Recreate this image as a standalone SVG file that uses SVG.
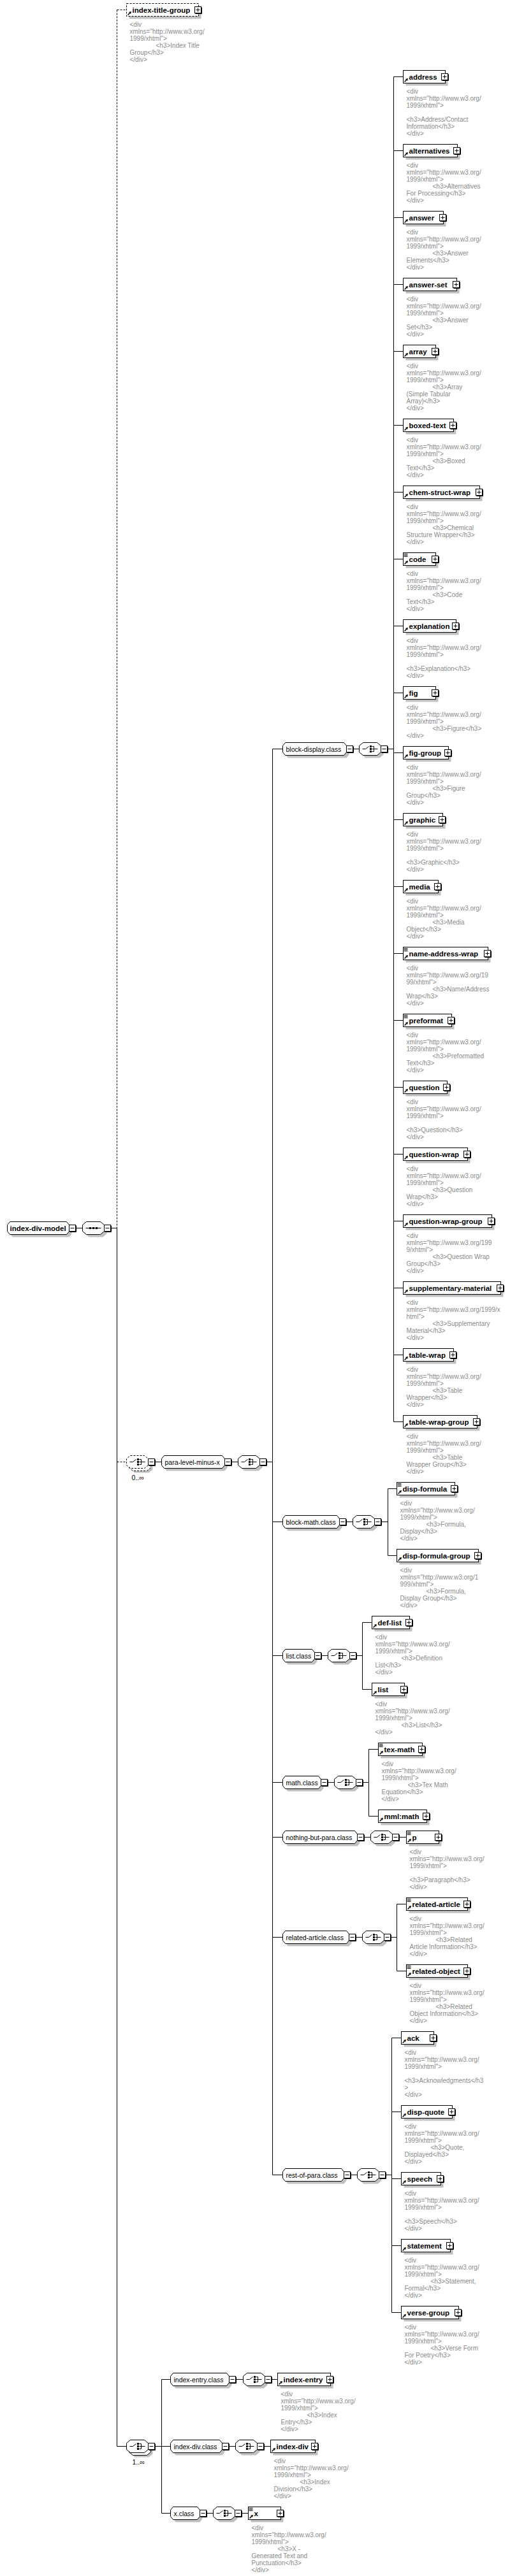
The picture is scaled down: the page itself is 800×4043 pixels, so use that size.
<svg xmlns="http://www.w3.org/2000/svg" width="800" height="4043" viewBox="0 0 800 4043">
<style>
.b{fill:#fff;stroke:#000;stroke-width:1}
.bd{fill:#fff;stroke:#000;stroke-width:1;stroke-dasharray:3,2}
.s{fill:#c0c0c0;stroke:none}
.n{font-family:"Liberation Sans",Arial,sans-serif;font-weight:bold;font-size:11.5px;fill:#000}
.c{font-family:"Liberation Sans",Arial,sans-serif;font-size:10.5px;fill:#000}
.a{font-family:"Liberation Sans",Arial,sans-serif;font-size:10px;fill:#8a8a8a}
.ln{fill:none;stroke:#000;stroke-width:1}
.dl{fill:none;stroke:#000;stroke-width:1;stroke-dasharray:3,2}
</style>
<defs>
<path id="cp" d="M6 0H28L34 5V15L28 20H6L0 15V5Z"/>
<g id="pb"><rect width="10" height="10" fill="#fff" stroke="#000"/><path d="M11 1V11H1" fill="none" stroke="#000"/><path d="M2 5H8M5 2V8" stroke="#000"/></g>
<g id="mb"><rect width="10" height="10" fill="#fff" stroke="#000"/><path d="M11 1V11H1" fill="none" stroke="#000"/><path d="M2 5H8" stroke="#000"/></g>
<g id="ra"><path d="M2 18L5 15" stroke="#000" stroke-width="1.5"/><path d="M7.5 12.5L3.5 13.5L6.5 16.5Z" fill="#000"/></g>
<g id="mi"><path d="M1 2H7M1 4H7M1 6H7" stroke="#000"/></g>
<g id="ci"><path d="M5 10H10L15 6M20 6H23V14H20M20 10H29" fill="none" stroke="#000"/><path d="M16.5 4.5h3v3h-3zM16.5 8.5h3v3h-3zM16.5 12.5h3v3h-3z" fill="#000"/></g>
<g id="si"><path d="M5 10H29" stroke="#000"/><path d="M10.5 8.5h3v3h-3zM15.5 8.5h3v3h-3zM20.5 8.5h3v3h-3z" fill="#000"/></g>
</defs>
<rect x="0" y="0" width="800" height="4043" fill="#fff"/>
<g transform="translate(0.5,0.5)">
<g id="connectors">
<path class="dl" d="M183 15V1927M183 15H198M183 2294H198"/>
<path class="ln" d="M119 1927H129M174 1927H183M183 1927V3839H198M243 2294H253M363 2294H373M418 2294H427M427 1175V3413M427 1175H443M427 2388H443M427 2598H443M427 2797H443M427 2883H443M427 3040H443M427 3413H443M554 1175H563M608 1175H617M617 120V2231M617 120H632M617 236H632M617 341H632M617 446H632M617 551H632M617 667H632M617 772H632M617 877H632M617 982H632M617 1087H632M617 1181H632M617 1286H632M617 1391H632M617 1496H632M617 1601H632M617 1706H632M617 1811H632M617 1916H632M617 2021H632M617 2126H632M617 2231H632M543 2388H553M598 2388H608M608 2336V2441M608 2336H622M608 2441H622M504 2598H514M559 2598H568M568 2546V2651M568 2546H583M568 2651H583M514 2797H524M569 2797H578M578 2745V2850M578 2745H593M578 2850H593M571 2883H581M626 2883H637M558 3040H568M613 3040H622M622 2988V3093M622 2988H637M622 3093H637M550 3413H560M605 3413H614M614 3198V3629M614 3198H629M614 3314H629M614 3419H629M614 3524H629M614 3629H629M243 3839H253M253 3734V3944M253 3734H267M253 3839H267M253 3944H267M370 3734H381M426 3734H435M359 3839H369M414 3839H424M324 3944H334M379 3944H389"/>
</g>

<g id="index-div-model">
<path class="s" transform="translate(4,4)" d="M15 1917H104L108 1922V1932L104 1937H15L11 1932V1922Z"/>
<path class="b" d="M15 1917H104L108 1922V1932L104 1937H15L11 1932V1922Z"/>
<text class="n" x="15" y="1931">index-div-model</text>
<use href="#mb" x="108" y="1922"/>
</g>
<g id="root-sequence">
<use href="#cp" class="s" x="133" y="1921"/><use href="#cp" class="b" x="129" y="1917"/><use href="#si" x="129" y="1917"/><use href="#mb" x="163" y="1922"/>
</g>

<g id="index-title-group">
<rect class="s" x="202" y="9" width="113" height="20"/>
<rect class="bd" x="198" y="5" width="113" height="20"/>
<use href="#ra" x="198" y="5"/>
<text class="n" x="207" y="19">index-title-group</text>
<use href="#pb" x="305" y="10"/>
<text class="a"><tspan x="203" y="41">&lt;div</tspan><tspan x="203" dy="11">xmlns="http://www.w3.org/</tspan><tspan x="203" dy="11">1999/xhtml"&gt;</tspan><tspan x="244" dy="11">&lt;h3&gt;Index Title</tspan><tspan x="203" dy="11">Group&lt;/h3&gt;</tspan><tspan x="203" dy="11">&lt;/div&gt;</tspan></text>
</g>

<g id="para-choice">
<use href="#cp" class="s" x="205" y="2291"/><use href="#cp" class="bd" x="202" y="2288"/><use href="#cp" class="bd" x="198" y="2284"/><use href="#ci" x="198" y="2284"/><use href="#mb" x="232" y="2289"/>
<text class="c" x="206" y="2322">0..∞</text>
</g>
<g id="para-level-minus-x">
<path class="s" transform="translate(4,4)" d="M257 2284H348L352 2289V2299L348 2304H257L253 2299V2289Z"/>
<path class="b" d="M257 2284H348L352 2289V2299L348 2304H257L253 2299V2289Z"/>
<text class="c" x="258" y="2298">para-level-minus-x</text>
<use href="#mb" x="352" y="2289"/>
<use href="#cp" class="s" x="377" y="2288"/><use href="#cp" class="b" x="373" y="2284"/><use href="#ci" x="373" y="2284"/><use href="#mb" x="407" y="2289"/>
</g>

<g id="block-display.class">
<path class="s" transform="translate(4,4)" d="M447 1165H539L543 1170V1180L539 1185H447L443 1180V1170Z"/>
<path class="b" d="M447 1165H539L543 1170V1180L539 1185H447L443 1180V1170Z"/>
<text class="c" x="448" y="1179">block-display.class</text>
<use href="#mb" x="543" y="1170"/>
<use href="#cp" class="s" x="567" y="1169"/><use href="#cp" class="b" x="563" y="1165"/><use href="#ci" x="563" y="1165"/><use href="#mb" x="597" y="1170"/>
</g>

<g id="address">
<rect class="s" x="636" y="114" width="66" height="20"/><rect class="b" x="632" y="110" width="66" height="20"/><use href="#ra" x="632" y="110"/>
<text class="n" x="641" y="124">address</text><use href="#pb" x="692" y="115"/>
<text class="a"><tspan x="637" y="146">&lt;div</tspan><tspan x="637" dy="11">xmlns="http://www.w3.org/</tspan><tspan x="637" dy="11">1999/xhtml"&gt;</tspan><tspan x="637" dy="22">&lt;h3&gt;Address/Contact</tspan><tspan x="637" dy="11">Information&lt;/h3&gt;</tspan><tspan x="637" dy="11">&lt;/div&gt;</tspan></text>
</g>
<g id="alternatives">
<rect class="s" x="636" y="230" width="85" height="20"/><rect class="b" x="632" y="226" width="85" height="20"/><use href="#ra" x="632" y="226"/>
<text class="n" x="641" y="240">alternatives</text><use href="#pb" x="711" y="231"/>
<text class="a"><tspan x="637" y="262">&lt;div</tspan><tspan x="637" dy="11">xmlns="http://www.w3.org/</tspan><tspan x="637" dy="11">1999/xhtml"&gt;</tspan><tspan x="678" dy="11">&lt;h3&gt;Alternatives</tspan><tspan x="637" dy="11">For Processing&lt;/h3&gt;</tspan><tspan x="637" dy="11">&lt;/div&gt;</tspan></text>
</g>
<g id="answer">
<rect class="s" x="636" y="335" width="63" height="20"/><rect class="b" x="632" y="331" width="63" height="20"/><use href="#ra" x="632" y="331"/>
<text class="n" x="641" y="345">answer</text><use href="#pb" x="689" y="336"/>
<text class="a"><tspan x="637" y="367">&lt;div</tspan><tspan x="637" dy="11">xmlns="http://www.w3.org/</tspan><tspan x="637" dy="11">1999/xhtml"&gt;</tspan><tspan x="678" dy="11">&lt;h3&gt;Answer</tspan><tspan x="637" dy="11">Elements&lt;/h3&gt;</tspan><tspan x="637" dy="11">&lt;/div&gt;</tspan></text>
</g>
<g id="answer-set">
<rect class="s" x="636" y="440" width="84" height="20"/><rect class="b" x="632" y="436" width="84" height="20"/><use href="#ra" x="632" y="436"/>
<text class="n" x="641" y="450">answer-set</text><use href="#pb" x="710" y="441"/>
<text class="a"><tspan x="637" y="472">&lt;div</tspan><tspan x="637" dy="11">xmlns="http://www.w3.org/</tspan><tspan x="637" dy="11">1999/xhtml"&gt;</tspan><tspan x="678" dy="11">&lt;h3&gt;Answer</tspan><tspan x="637" dy="11">Set&lt;/h3&gt;</tspan><tspan x="637" dy="11">&lt;/div&gt;</tspan></text>
</g>
<g id="array">
<rect class="s" x="636" y="545" width="51" height="20"/><rect class="b" x="632" y="541" width="51" height="20"/><use href="#ra" x="632" y="541"/>
<text class="n" x="641" y="555">array</text><use href="#pb" x="677" y="546"/>
<text class="a"><tspan x="637" y="577">&lt;div</tspan><tspan x="637" dy="11">xmlns="http://www.w3.org/</tspan><tspan x="637" dy="11">1999/xhtml"&gt;</tspan><tspan x="678" dy="11">&lt;h3&gt;Array</tspan><tspan x="637" dy="11">(Simple Tabular</tspan><tspan x="637" dy="11">Array)&lt;/h3&gt;</tspan><tspan x="637" dy="11">&lt;/div&gt;</tspan></text>
</g>
<g id="boxed-text">
<rect class="s" x="636" y="661" width="79" height="20"/><rect class="b" x="632" y="657" width="79" height="20"/><use href="#ra" x="632" y="657"/>
<text class="n" x="641" y="671">boxed-text</text><use href="#pb" x="705" y="662"/>
<text class="a"><tspan x="637" y="693">&lt;div</tspan><tspan x="637" dy="11">xmlns="http://www.w3.org/</tspan><tspan x="637" dy="11">1999/xhtml"&gt;</tspan><tspan x="678" dy="11">&lt;h3&gt;Boxed</tspan><tspan x="637" dy="11">Text&lt;/h3&gt;</tspan><tspan x="637" dy="11">&lt;/div&gt;</tspan></text>
</g>
<g id="chem-struct-wrap">
<rect class="s" x="636" y="766" width="120" height="20"/><rect class="b" x="632" y="762" width="120" height="20"/><use href="#ra" x="632" y="762"/>
<text class="n" x="641" y="776">chem-struct-wrap</text><use href="#pb" x="746" y="767"/>
<text class="a"><tspan x="637" y="798">&lt;div</tspan><tspan x="637" dy="11">xmlns="http://www.w3.org/</tspan><tspan x="637" dy="11">1999/xhtml"&gt;</tspan><tspan x="678" dy="11">&lt;h3&gt;Chemical</tspan><tspan x="637" dy="11">Structure Wrapper&lt;/h3&gt;</tspan><tspan x="637" dy="11">&lt;/div&gt;</tspan></text>
</g>
<g id="code">
<rect class="s" x="636" y="871" width="51" height="20"/><rect class="b" x="632" y="867" width="51" height="20"/><use href="#mi" x="632" y="867"/><use href="#ra" x="632" y="867"/>
<text class="n" x="641" y="881">code</text><use href="#pb" x="677" y="872"/>
<text class="a"><tspan x="637" y="903">&lt;div</tspan><tspan x="637" dy="11">xmlns="http://www.w3.org/</tspan><tspan x="637" dy="11">1999/xhtml"&gt;</tspan><tspan x="678" dy="11">&lt;h3&gt;Code</tspan><tspan x="637" dy="11">Text&lt;/h3&gt;</tspan><tspan x="637" dy="11">&lt;/div&gt;</tspan></text>
</g>
<g id="explanation">
<rect class="s" x="636" y="976" width="83" height="20"/><rect class="b" x="632" y="972" width="83" height="20"/><use href="#ra" x="632" y="972"/>
<text class="n" x="641" y="986">explanation</text><use href="#pb" x="709" y="977"/>
<text class="a"><tspan x="637" y="1008">&lt;div</tspan><tspan x="637" dy="11">xmlns="http://www.w3.org/</tspan><tspan x="637" dy="11">1999/xhtml"&gt;</tspan><tspan x="637" dy="22">&lt;h3&gt;Explanation&lt;/h3&gt;</tspan><tspan x="637" dy="11">&lt;/div&gt;</tspan></text>
</g>
<g id="fig">
<rect class="s" x="636" y="1081" width="51" height="20"/><rect class="b" x="632" y="1077" width="51" height="20"/><use href="#ra" x="632" y="1077"/>
<text class="n" x="641" y="1091">fig</text><use href="#pb" x="677" y="1082"/>
<text class="a"><tspan x="637" y="1113">&lt;div</tspan><tspan x="637" dy="11">xmlns="http://www.w3.org/</tspan><tspan x="637" dy="11">1999/xhtml"&gt;</tspan><tspan x="678" dy="11">&lt;h3&gt;Figure&lt;/h3&gt;</tspan><tspan x="637" dy="11">&lt;/div&gt;</tspan></text>
</g>
<g id="fig-group">
<rect class="s" x="636" y="1175" width="71" height="20"/><rect class="b" x="632" y="1171" width="71" height="20"/><use href="#ra" x="632" y="1171"/>
<text class="n" x="641" y="1185">fig-group</text><use href="#pb" x="697" y="1176"/>
<text class="a"><tspan x="637" y="1207">&lt;div</tspan><tspan x="637" dy="11">xmlns="http://www.w3.org/</tspan><tspan x="637" dy="11">1999/xhtml"&gt;</tspan><tspan x="678" dy="11">&lt;h3&gt;Figure</tspan><tspan x="637" dy="11">Group&lt;/h3&gt;</tspan><tspan x="637" dy="11">&lt;/div&gt;</tspan></text>
</g>
<g id="graphic">
<rect class="s" x="636" y="1280" width="62" height="20"/><rect class="b" x="632" y="1276" width="62" height="20"/><use href="#ra" x="632" y="1276"/>
<text class="n" x="641" y="1290">graphic</text><use href="#pb" x="688" y="1281"/>
<text class="a"><tspan x="637" y="1312">&lt;div</tspan><tspan x="637" dy="11">xmlns="http://www.w3.org/</tspan><tspan x="637" dy="11">1999/xhtml"&gt;</tspan><tspan x="637" dy="22">&lt;h3&gt;Graphic&lt;/h3&gt;</tspan><tspan x="637" dy="11">&lt;/div&gt;</tspan></text>
</g>
<g id="media">
<rect class="s" x="636" y="1385" width="55" height="20"/><rect class="b" x="632" y="1381" width="55" height="20"/><use href="#ra" x="632" y="1381"/>
<text class="n" x="641" y="1395">media</text><use href="#pb" x="681" y="1386"/>
<text class="a"><tspan x="637" y="1417">&lt;div</tspan><tspan x="637" dy="11">xmlns="http://www.w3.org/</tspan><tspan x="637" dy="11">1999/xhtml"&gt;</tspan><tspan x="678" dy="11">&lt;h3&gt;Media</tspan><tspan x="637" dy="11">Object&lt;/h3&gt;</tspan><tspan x="637" dy="11">&lt;/div&gt;</tspan></text>
</g>
<g id="name-address-wrap">
<rect class="s" x="636" y="1490" width="133" height="20"/><rect class="b" x="632" y="1486" width="133" height="20"/><use href="#mi" x="632" y="1486"/><use href="#ra" x="632" y="1486"/>
<text class="n" x="641" y="1500">name-address-wrap</text><use href="#pb" x="759" y="1491"/>
<text class="a"><tspan x="637" y="1522">&lt;div</tspan><tspan x="637" dy="11">xmlns="http://www.w3.org/19</tspan><tspan x="637" dy="11">99/xhtml"&gt;</tspan><tspan x="678" dy="11">&lt;h3&gt;Name/Address</tspan><tspan x="637" dy="11">Wrap&lt;/h3&gt;</tspan><tspan x="637" dy="11">&lt;/div&gt;</tspan></text>
</g>
<g id="preformat">
<rect class="s" x="636" y="1595" width="76" height="20"/><rect class="b" x="632" y="1591" width="76" height="20"/><use href="#mi" x="632" y="1591"/><use href="#ra" x="632" y="1591"/>
<text class="n" x="641" y="1605">preformat</text><use href="#pb" x="702" y="1596"/>
<text class="a"><tspan x="637" y="1627">&lt;div</tspan><tspan x="637" dy="11">xmlns="http://www.w3.org/</tspan><tspan x="637" dy="11">1999/xhtml"&gt;</tspan><tspan x="678" dy="11">&lt;h3&gt;Preformatted</tspan><tspan x="637" dy="11">Text&lt;/h3&gt;</tspan><tspan x="637" dy="11">&lt;/div&gt;</tspan></text>
</g>
<g id="question">
<rect class="s" x="636" y="1700" width="69" height="20"/><rect class="b" x="632" y="1696" width="69" height="20"/><use href="#ra" x="632" y="1696"/>
<text class="n" x="641" y="1710">question</text><use href="#pb" x="695" y="1701"/>
<text class="a"><tspan x="637" y="1732">&lt;div</tspan><tspan x="637" dy="11">xmlns="http://www.w3.org/</tspan><tspan x="637" dy="11">1999/xhtml"&gt;</tspan><tspan x="637" dy="22">&lt;h3&gt;Question&lt;/h3&gt;</tspan><tspan x="637" dy="11">&lt;/div&gt;</tspan></text>
</g>
<g id="question-wrap">
<rect class="s" x="636" y="1805" width="101" height="20"/><rect class="b" x="632" y="1801" width="101" height="20"/><use href="#ra" x="632" y="1801"/>
<text class="n" x="641" y="1815">question-wrap</text><use href="#pb" x="727" y="1806"/>
<text class="a"><tspan x="637" y="1837">&lt;div</tspan><tspan x="637" dy="11">xmlns="http://www.w3.org/</tspan><tspan x="637" dy="11">1999/xhtml"&gt;</tspan><tspan x="678" dy="11">&lt;h3&gt;Question</tspan><tspan x="637" dy="11">Wrap&lt;/h3&gt;</tspan><tspan x="637" dy="11">&lt;/div&gt;</tspan></text>
</g>
<g id="question-wrap-group">
<rect class="s" x="636" y="1910" width="139" height="20"/><rect class="b" x="632" y="1906" width="139" height="20"/><use href="#ra" x="632" y="1906"/>
<text class="n" x="641" y="1920">question-wrap-group</text><use href="#pb" x="765" y="1911"/>
<text class="a"><tspan x="637" y="1942">&lt;div</tspan><tspan x="637" dy="11">xmlns="http://www.w3.org/199</tspan><tspan x="637" dy="11">9/xhtml"&gt;</tspan><tspan x="678" dy="11">&lt;h3&gt;Question Wrap</tspan><tspan x="637" dy="11">Group&lt;/h3&gt;</tspan><tspan x="637" dy="11">&lt;/div&gt;</tspan></text>
</g>
<g id="supplementary-material">
<rect class="s" x="636" y="2015" width="153" height="20"/><rect class="b" x="632" y="2011" width="153" height="20"/><use href="#ra" x="632" y="2011"/>
<text class="n" x="641" y="2025">supplementary-material</text><use href="#pb" x="779" y="2016"/>
<text class="a"><tspan x="637" y="2047">&lt;div</tspan><tspan x="637" dy="11">xmlns="http://www.w3.org/1999/x</tspan><tspan x="637" dy="11">html"&gt;</tspan><tspan x="678" dy="11">&lt;h3&gt;Supplementary</tspan><tspan x="637" dy="11">Material&lt;/h3&gt;</tspan><tspan x="637" dy="11">&lt;/div&gt;</tspan></text>
</g>
<g id="table-wrap">
<rect class="s" x="636" y="2120" width="79" height="20"/><rect class="b" x="632" y="2116" width="79" height="20"/><use href="#ra" x="632" y="2116"/>
<text class="n" x="641" y="2130">table-wrap</text><use href="#pb" x="705" y="2121"/>
<text class="a"><tspan x="637" y="2152">&lt;div</tspan><tspan x="637" dy="11">xmlns="http://www.w3.org/</tspan><tspan x="637" dy="11">1999/xhtml"&gt;</tspan><tspan x="678" dy="11">&lt;h3&gt;Table</tspan><tspan x="637" dy="11">Wrapper&lt;/h3&gt;</tspan><tspan x="637" dy="11">&lt;/div&gt;</tspan></text>
</g>
<g id="table-wrap-group">
<rect class="s" x="636" y="2225" width="116" height="20"/><rect class="b" x="632" y="2221" width="116" height="20"/><use href="#ra" x="632" y="2221"/>
<text class="n" x="641" y="2235">table-wrap-group</text><use href="#pb" x="742" y="2226"/>
<text class="a"><tspan x="637" y="2257">&lt;div</tspan><tspan x="637" dy="11">xmlns="http://www.w3.org/</tspan><tspan x="637" dy="11">1999/xhtml"&gt;</tspan><tspan x="678" dy="11">&lt;h3&gt;Table</tspan><tspan x="637" dy="11">Wrapper Group&lt;/h3&gt;</tspan><tspan x="637" dy="11">&lt;/div&gt;</tspan></text>
</g>

<g id="block-math.class">
<path class="s" transform="translate(4,4)" d="M447 2378H528L532 2383V2393L528 2398H447L443 2393V2383Z"/>
<path class="b" d="M447 2378H528L532 2383V2393L528 2398H447L443 2393V2383Z"/>
<text class="c" x="448" y="2392">block-math.class</text>
<use href="#mb" x="532" y="2383"/>
<use href="#cp" class="s" x="557" y="2382"/><use href="#cp" class="b" x="553" y="2378"/><use href="#ci" x="553" y="2378"/><use href="#mb" x="587" y="2383"/>
</g>
<g id="disp-formula">
<rect class="s" x="626" y="2330" width="91" height="20"/><rect class="b" x="622" y="2326" width="91" height="20"/><use href="#mi" x="622" y="2326"/><use href="#ra" x="622" y="2326"/>
<text class="n" x="631" y="2340">disp-formula</text><use href="#pb" x="707" y="2331"/>
<text class="a"><tspan x="627" y="2362">&lt;div</tspan><tspan x="627" dy="11">xmlns="http://www.w3.org/</tspan><tspan x="627" dy="11">1999/xhtml"&gt;</tspan><tspan x="668" dy="11">&lt;h3&gt;Formula,</tspan><tspan x="627" dy="11">Display&lt;/h3&gt;</tspan><tspan x="627" dy="11">&lt;/div&gt;</tspan></text>
</g>
<g id="disp-formula-group">
<rect class="s" x="626" y="2435" width="128" height="20"/><rect class="b" x="622" y="2431" width="128" height="20"/><use href="#ra" x="622" y="2431"/>
<text class="n" x="631" y="2445">disp-formula-group</text><use href="#pb" x="744" y="2436"/>
<text class="a"><tspan x="627" y="2467">&lt;div</tspan><tspan x="627" dy="11">xmlns="http://www.w3.org/1</tspan><tspan x="627" dy="11">999/xhtml"&gt;</tspan><tspan x="668" dy="11">&lt;h3&gt;Formula,</tspan><tspan x="627" dy="11">Display Group&lt;/h3&gt;</tspan><tspan x="627" dy="11">&lt;/div&gt;</tspan></text>
</g>

<g id="list.class">
<path class="s" transform="translate(4,4)" d="M447 2588H489L493 2593V2603L489 2608H447L443 2603V2593Z"/>
<path class="b" d="M447 2588H489L493 2593V2603L489 2608H447L443 2603V2593Z"/>
<text class="c" x="448" y="2602">list.class</text>
<use href="#mb" x="493" y="2593"/>
<use href="#cp" class="s" x="518" y="2592"/><use href="#cp" class="b" x="514" y="2588"/><use href="#ci" x="514" y="2588"/><use href="#mb" x="548" y="2593"/>
</g>
<g id="def-list">
<rect class="s" x="587" y="2540" width="59" height="20"/><rect class="b" x="583" y="2536" width="59" height="20"/><use href="#ra" x="583" y="2536"/>
<text class="n" x="592" y="2550">def-list</text><use href="#pb" x="636" y="2541"/>
<text class="a"><tspan x="588" y="2572">&lt;div</tspan><tspan x="588" dy="11">xmlns="http://www.w3.org/</tspan><tspan x="588" dy="11">1999/xhtml"&gt;</tspan><tspan x="629" dy="11">&lt;h3&gt;Definition</tspan><tspan x="588" dy="11">List&lt;/h3&gt;</tspan><tspan x="588" dy="11">&lt;/div&gt;</tspan></text>
</g>
<g id="list">
<rect class="s" x="587" y="2645" width="51" height="20"/><rect class="b" x="583" y="2641" width="51" height="20"/><use href="#ra" x="583" y="2641"/>
<text class="n" x="592" y="2655">list</text><use href="#pb" x="628" y="2646"/>
<text class="a"><tspan x="588" y="2677">&lt;div</tspan><tspan x="588" dy="11">xmlns="http://www.w3.org/</tspan><tspan x="588" dy="11">1999/xhtml"&gt;</tspan><tspan x="629" dy="11">&lt;h3&gt;List&lt;/h3&gt;</tspan><tspan x="588" dy="11">&lt;/div&gt;</tspan></text>
</g>

<g id="math.class">
<path class="s" transform="translate(4,4)" d="M447 2787H499L503 2792V2802L499 2807H447L443 2802V2792Z"/>
<path class="b" d="M447 2787H499L503 2792V2802L499 2807H447L443 2802V2792Z"/>
<text class="c" x="448" y="2801">math.class</text>
<use href="#mb" x="503" y="2792"/>
<use href="#cp" class="s" x="528" y="2791"/><use href="#cp" class="b" x="524" y="2787"/><use href="#ci" x="524" y="2787"/><use href="#mb" x="558" y="2792"/>
</g>
<g id="tex-math">
<rect class="s" x="597" y="2739" width="69" height="20"/><rect class="b" x="593" y="2735" width="69" height="20"/><use href="#mi" x="593" y="2735"/><use href="#ra" x="593" y="2735"/>
<text class="n" x="602" y="2749">tex-math</text><use href="#pb" x="656" y="2740"/>
<text class="a"><tspan x="598" y="2771">&lt;div</tspan><tspan x="598" dy="11">xmlns="http://www.w3.org/</tspan><tspan x="598" dy="11">1999/xhtml"&gt;</tspan><tspan x="639" dy="11">&lt;h3&gt;Tex Math</tspan><tspan x="598" dy="11">Equation&lt;/h3&gt;</tspan><tspan x="598" dy="11">&lt;/div&gt;</tspan></text>
</g>
<g id="mml-math">
<rect class="s" x="597" y="2844" width="76" height="20"/><rect class="b" x="593" y="2840" width="76" height="20"/><use href="#ra" x="593" y="2840"/>
<text class="n" x="602" y="2854">mml:math</text><use href="#pb" x="663" y="2845"/>
</g>

<g id="nothing-but-para.class">
<path class="s" transform="translate(4,4)" d="M447 2873H556L560 2878V2888L556 2893H447L443 2888V2878Z"/>
<path class="b" d="M447 2873H556L560 2878V2888L556 2893H447L443 2888V2878Z"/>
<text class="c" x="448" y="2887">nothing-but-para.class</text>
<use href="#mb" x="560" y="2878"/>
<use href="#cp" class="s" x="585" y="2877"/><use href="#cp" class="b" x="581" y="2873"/><use href="#ci" x="581" y="2873"/><use href="#mb" x="615" y="2878"/>
</g>
<g id="p">
<rect class="s" x="641" y="2877" width="51" height="20"/><rect class="b" x="637" y="2873" width="51" height="20"/><use href="#mi" x="637" y="2873"/><use href="#ra" x="637" y="2873"/>
<text class="n" x="646" y="2887">p</text><use href="#pb" x="682" y="2878"/>
<text class="a"><tspan x="642" y="2909">&lt;div</tspan><tspan x="642" dy="11">xmlns="http://www.w3.org/</tspan><tspan x="642" dy="11">1999/xhtml"&gt;</tspan><tspan x="642" dy="22">&lt;h3&gt;Paragraph&lt;/h3&gt;</tspan><tspan x="642" dy="11">&lt;/div&gt;</tspan></text>
</g>

<g id="related-article.class">
<path class="s" transform="translate(4,4)" d="M447 3030H543L547 3035V3045L543 3050H447L443 3045V3035Z"/>
<path class="b" d="M447 3030H543L547 3035V3045L543 3050H447L443 3045V3035Z"/>
<text class="c" x="448" y="3044">related-article.class</text>
<use href="#mb" x="547" y="3035"/>
<use href="#cp" class="s" x="572" y="3034"/><use href="#cp" class="b" x="568" y="3030"/><use href="#ci" x="568" y="3030"/><use href="#mb" x="602" y="3035"/>
</g>
<g id="related-article">
<rect class="s" x="641" y="2982" width="96" height="20"/><rect class="b" x="637" y="2978" width="96" height="20"/><use href="#mi" x="637" y="2978"/><use href="#ra" x="637" y="2978"/>
<text class="n" x="646" y="2992">related-article</text><use href="#pb" x="727" y="2983"/>
<text class="a"><tspan x="642" y="3014">&lt;div</tspan><tspan x="642" dy="11">xmlns="http://www.w3.org/</tspan><tspan x="642" dy="11">1999/xhtml"&gt;</tspan><tspan x="683" dy="11">&lt;h3&gt;Related</tspan><tspan x="642" dy="11">Article Information&lt;/h3&gt;</tspan><tspan x="642" dy="11">&lt;/div&gt;</tspan></text>
</g>
<g id="related-object">
<rect class="s" x="641" y="3087" width="96" height="20"/><rect class="b" x="637" y="3083" width="96" height="20"/><use href="#mi" x="637" y="3083"/><use href="#ra" x="637" y="3083"/>
<text class="n" x="646" y="3097">related-object</text><use href="#pb" x="727" y="3088"/>
<text class="a"><tspan x="642" y="3119">&lt;div</tspan><tspan x="642" dy="11">xmlns="http://www.w3.org/</tspan><tspan x="642" dy="11">1999/xhtml"&gt;</tspan><tspan x="683" dy="11">&lt;h3&gt;Related</tspan><tspan x="642" dy="11">Object Information&lt;/h3&gt;</tspan><tspan x="642" dy="11">&lt;/div&gt;</tspan></text>
</g>

<g id="rest-of-para.class">
<path class="s" transform="translate(4,4)" d="M447 3403H535L539 3408V3418L535 3423H447L443 3418V3408Z"/>
<path class="b" d="M447 3403H535L539 3408V3418L535 3423H447L443 3418V3408Z"/>
<text class="c" x="448" y="3417">rest-of-para.class</text>
<use href="#mb" x="539" y="3408"/>
<use href="#cp" class="s" x="564" y="3407"/><use href="#cp" class="b" x="560" y="3403"/><use href="#ci" x="560" y="3403"/><use href="#mb" x="594" y="3408"/>
</g>
<g id="ack">
<rect class="s" x="633" y="3192" width="51" height="20"/><rect class="b" x="629" y="3188" width="51" height="20"/><use href="#ra" x="629" y="3188"/>
<text class="n" x="638" y="3202">ack</text><use href="#pb" x="674" y="3193"/>
<text class="a"><tspan x="634" y="3224">&lt;div</tspan><tspan x="634" dy="11">xmlns="http://www.w3.org/</tspan><tspan x="634" dy="11">1999/xhtml"&gt;</tspan><tspan x="634" dy="22">&lt;h3&gt;Acknowledgments&lt;/h3</tspan><tspan x="634" dy="11">&gt;</tspan><tspan x="634" dy="11">&lt;/div&gt;</tspan></text>
</g>
<g id="disp-quote">
<rect class="s" x="633" y="3308" width="80" height="20"/><rect class="b" x="629" y="3304" width="80" height="20"/><use href="#ra" x="629" y="3304"/>
<text class="n" x="638" y="3318">disp-quote</text><use href="#pb" x="703" y="3309"/>
<text class="a"><tspan x="634" y="3340">&lt;div</tspan><tspan x="634" dy="11">xmlns="http://www.w3.org/</tspan><tspan x="634" dy="11">1999/xhtml"&gt;</tspan><tspan x="675" dy="11">&lt;h3&gt;Quote,</tspan><tspan x="634" dy="11">Displayed&lt;/h3&gt;</tspan><tspan x="634" dy="11">&lt;/div&gt;</tspan></text>
</g>
<g id="speech">
<rect class="s" x="633" y="3413" width="62" height="20"/><rect class="b" x="629" y="3409" width="62" height="20"/><use href="#ra" x="629" y="3409"/>
<text class="n" x="638" y="3423">speech</text><use href="#pb" x="685" y="3414"/>
<text class="a"><tspan x="634" y="3445">&lt;div</tspan><tspan x="634" dy="11">xmlns="http://www.w3.org/</tspan><tspan x="634" dy="11">1999/xhtml"&gt;</tspan><tspan x="634" dy="22">&lt;h3&gt;Speech&lt;/h3&gt;</tspan><tspan x="634" dy="11">&lt;/div&gt;</tspan></text>
</g>
<g id="statement">
<rect class="s" x="633" y="3518" width="77" height="20"/><rect class="b" x="629" y="3514" width="77" height="20"/><use href="#ra" x="629" y="3514"/>
<text class="n" x="638" y="3528">statement</text><use href="#pb" x="700" y="3519"/>
<text class="a"><tspan x="634" y="3550">&lt;div</tspan><tspan x="634" dy="11">xmlns="http://www.w3.org/</tspan><tspan x="634" dy="11">1999/xhtml"&gt;</tspan><tspan x="675" dy="11">&lt;h3&gt;Statement,</tspan><tspan x="634" dy="11">Formal&lt;/h3&gt;</tspan><tspan x="634" dy="11">&lt;/div&gt;</tspan></text>
</g>
<g id="verse-group">
<rect class="s" x="633" y="3623" width="90" height="20"/><rect class="b" x="629" y="3619" width="90" height="20"/><use href="#ra" x="629" y="3619"/>
<text class="n" x="638" y="3633">verse-group</text><use href="#pb" x="713" y="3624"/>
<text class="a"><tspan x="634" y="3655">&lt;div</tspan><tspan x="634" dy="11">xmlns="http://www.w3.org/</tspan><tspan x="634" dy="11">1999/xhtml"&gt;</tspan><tspan x="675" dy="11">&lt;h3&gt;Verse Form</tspan><tspan x="634" dy="11">For Poetry&lt;/h3&gt;</tspan><tspan x="634" dy="11">&lt;/div&gt;</tspan></text>
</g>

<g id="index-choice">
<use href="#cp" class="s" x="205" y="3836"/><use href="#cp" class="b" x="202" y="3833"/><use href="#cp" class="b" x="198" y="3829"/><use href="#ci" x="198" y="3829"/><use href="#mb" x="232" y="3834"/>
<text class="c" x="207" y="3867">1..∞</text>
</g>
<g id="index-entry.class">
<path class="s" transform="translate(4,4)" d="M271 3724H355L359 3729V3739L355 3744H271L267 3739V3729Z"/>
<path class="b" d="M271 3724H355L359 3729V3739L355 3744H271L267 3739V3729Z"/>
<text class="c" x="272" y="3738">index-entry.class</text>
<use href="#mb" x="359" y="3729"/>
<use href="#cp" class="s" x="385" y="3728"/><use href="#cp" class="b" x="381" y="3724"/><use href="#ci" x="381" y="3724"/><use href="#mb" x="415" y="3729"/>
</g>
<g id="index-entry">
<rect class="s" x="439" y="3728" width="83" height="20"/><rect class="b" x="435" y="3724" width="83" height="20"/><use href="#ra" x="435" y="3724"/>
<text class="n" x="444" y="3738">index-entry</text><use href="#pb" x="512" y="3729"/>
<text class="a"><tspan x="440" y="3760">&lt;div</tspan><tspan x="440" dy="11">xmlns="http://www.w3.org/</tspan><tspan x="440" dy="11">1999/xhtml"&gt;</tspan><tspan x="481" dy="11">&lt;h3&gt;Index</tspan><tspan x="440" dy="11">Entry&lt;/h3&gt;</tspan><tspan x="440" dy="11">&lt;/div&gt;</tspan></text>
</g>
<g id="index-div.class">
<path class="s" transform="translate(4,4)" d="M271 3829H344L348 3834V3844L344 3849H271L267 3844V3834Z"/>
<path class="b" d="M271 3829H344L348 3834V3844L344 3849H271L267 3844V3834Z"/>
<text class="c" x="272" y="3843">index-div.class</text>
<use href="#mb" x="348" y="3834"/>
<use href="#cp" class="s" x="373" y="3833"/><use href="#cp" class="b" x="369" y="3829"/><use href="#ci" x="369" y="3829"/><use href="#mb" x="403" y="3834"/>
</g>
<g id="index-div">
<rect class="s" x="428" y="3833" width="70" height="20"/><rect class="b" x="424" y="3829" width="70" height="20"/><use href="#ra" x="424" y="3829"/>
<text class="n" x="433" y="3843">index-div</text><use href="#pb" x="488" y="3834"/>
<text class="a"><tspan x="429" y="3865">&lt;div</tspan><tspan x="429" dy="11">xmlns="http://www.w3.org/</tspan><tspan x="429" dy="11">1999/xhtml"&gt;</tspan><tspan x="470" dy="11">&lt;h3&gt;Index</tspan><tspan x="429" dy="11">Division&lt;/h3&gt;</tspan><tspan x="429" dy="11">&lt;/div&gt;</tspan></text>
</g>
<g id="x.class">
<path class="s" transform="translate(4,4)" d="M271 3934H309L313 3939V3949L309 3954H271L267 3949V3939Z"/>
<path class="b" d="M271 3934H309L313 3939V3949L309 3954H271L267 3949V3939Z"/>
<text class="c" x="272" y="3948">x.class</text>
<use href="#mb" x="313" y="3939"/>
<use href="#cp" class="s" x="338" y="3938"/><use href="#cp" class="b" x="334" y="3934"/><use href="#ci" x="334" y="3934"/><use href="#mb" x="368" y="3939"/>
</g>
<g id="x">
<rect class="s" x="393" y="3938" width="51" height="20"/><rect class="b" x="389" y="3934" width="51" height="20"/><use href="#mi" x="389" y="3934"/><use href="#ra" x="389" y="3934"/>
<text class="n" x="398" y="3948">x</text><use href="#pb" x="434" y="3939"/>
<text class="a"><tspan x="394" y="3970">&lt;div</tspan><tspan x="394" dy="11">xmlns="http://www.w3.org/</tspan><tspan x="394" dy="11">1999/xhtml"&gt;</tspan><tspan x="435" dy="11">&lt;h3&gt;X -</tspan><tspan x="394" dy="11">Generated Text and</tspan><tspan x="394" dy="11">Punctuation&lt;/h3&gt;</tspan><tspan x="394" dy="11">&lt;/div&gt;</tspan></text>
</g>
</g>
</svg>
